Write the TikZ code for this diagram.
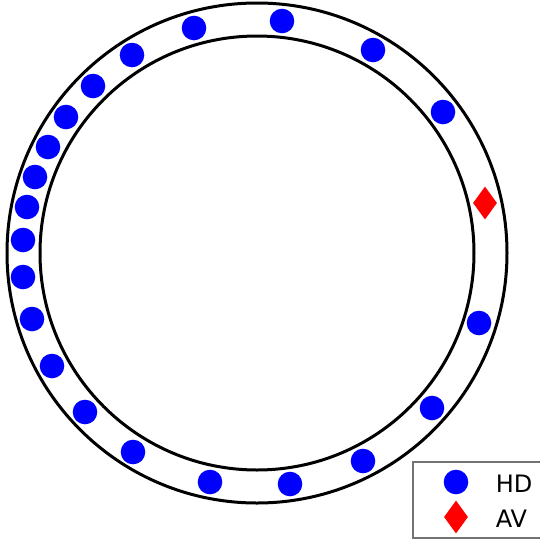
\documentclass[tikz,border=0pt]{standalone}
\usepackage{fontspec}
\setmainfont{DejaVu Sans}
\usetikzlibrary{shapes.geometric}
\tikzset{
  ring/.style={draw=black, line width=3pt, fill=none},
  hd/.style={circle, fill={rgb,255:red,0;green,0;blue,255}, draw=none, inner sep=0pt, minimum size=24.6pt},
  av/.style={diamond, fill={rgb,255:red,255;green,0;blue,0}, draw=none, inner sep=0pt, minimum width=24pt, minimum height=33pt},
  legendbox/.style={draw=black!55, line width=1.5pt, fill=white},
  legendtext/.style={anchor=base west, inner sep=0pt, font=\fontsize{24}{28}\selectfont}
}
\begin{document}
\begin{tikzpicture}[x=1pt, y=-1pt]
\useasboundingbox (0,0) rectangle (540,542);
\coordinate (c) at (257,253);
\draw[ring] (c) circle[radius=250];
\draw[ring] (c) circle[radius=217];
% HD vehicles
\node[hd] (h1) at (282,21) {};
\node[hd] (h2) at (373,50) {};
\node[hd] (h3) at (443,112) {};
\node[av] (a1) at (485,203) {};
\node[hd] (h4) at (479,323) {};
\node[hd] (h5) at (432,408) {};
\node[hd] (h6) at (363,461) {};
\node[hd] (h7) at (290,484) {};
\node[hd] (h8) at (210,482) {};
\node[hd] (h9) at (133,452) {};
\node[hd] (h10) at (85,412) {};
\node[hd] (h11) at (52,366) {};
\node[hd] (h12) at (32,319) {};
\node[hd] (h13) at (23,277) {};
\node[hd] (h14) at (23,240) {};
\node[hd] (h15) at (27,207) {};
\node[hd] (h16) at (35,177) {};
\node[hd] (h17) at (48,147) {};
\node[hd] (h18) at (66,117) {};
\node[hd] (h19) at (93,86) {};
\node[hd] (h20) at (132,55) {};
\node[hd] (h21) at (194,28) {};
% legend
\draw[legendbox] (413,462) rectangle (545,538);
\node[hd] (lhd) at (456,482) {};
\node[av] (lav) at (456,517) {};
\node[legendtext] (thd) at (495.6,492.7) {HD};
\node[legendtext] (tav) at (495.6,527.3) {AV};
\end{tikzpicture}
\end{document}
